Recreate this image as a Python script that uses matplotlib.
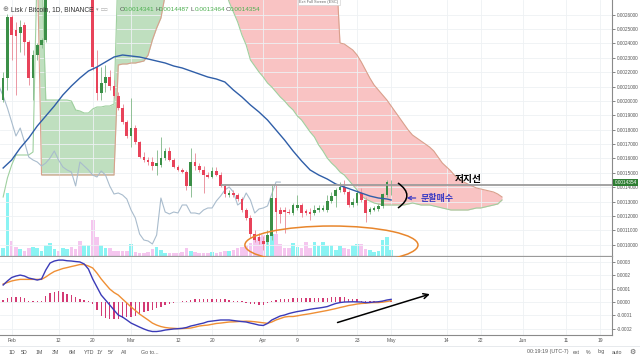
import numpy as np
import pandas as pd
import matplotlib
matplotlib.use("Agg")
import matplotlib.pyplot as plt
from matplotlib.patches import Ellipse, PathPatch
from matplotlib.path import Path
from matplotlib.ticker import FormatStrFormatter
from matplotlib.transforms import blended_transform_factory

plt.rcParams["font.family"] = ["Liberation Sans", "DejaVu Sans"]
KOREAN = ["Noto Sans CJK KR", "DejaVu Sans"]

ORIGIN = pd.Timestamp("2018-02-01")

# daily LSK/BTC candles 2018-01-30 .. 2018-05-01 (Feb 10-19 sit above the window)
candle_dates = pd.date_range("2018-01-30", "2018-05-01")
opens = [
    0.0020067, 0.0021597, 0.0025840, 0.0024936, 0.0024727, 0.0025284, 0.0024101, 0.0021597, 0.0023197, 0.0023893,
    0.0024240, 0.0027719, 0.0028500, 0.0029000, 0.0028800, 0.0029200, 0.0030000, 0.0029800, 0.0029400, 0.0028800,
    0.0029200, 0.0030500, 0.0022362, 0.0020553, 0.0021249, 0.0021666, 0.0021040, 0.0020345, 0.0019510, 0.0018536,
    0.0017562, 0.0018118, 0.0017145, 0.0016101, 0.0015893, 0.0015753, 0.0015475, 0.0015545, 0.0016032, 0.0016519,
    0.0015893, 0.0015406, 0.0015197, 0.0015058, 0.0014084, 0.0015753, 0.0015475, 0.0015197, 0.0014849, 0.0014710,
    0.0015127, 0.0014849, 0.0014084, 0.0013458, 0.0013597, 0.0013458, 0.0013180, 0.0012414, 0.0011858, 0.0010745,
    0.0010536, 0.0010258, 0.0010188, 0.0010606, 0.0013249, 0.0012414, 0.0012414, 0.0012275, 0.0012206, 0.0012554,
    0.0012762, 0.0012345, 0.0012275, 0.0012206, 0.0012414, 0.0012414, 0.0012414, 0.0013041, 0.0013388, 0.0013806,
    0.0014014, 0.0013667, 0.0012762, 0.0012901, 0.0013597, 0.0013110, 0.0012275, 0.0012414, 0.0012484, 0.0012693,
    0.0013458, 0.0014341,
]
highs = [
    0.0022014, 0.0026049, 0.0025979, 0.0025492, 0.0025632, 0.0025492, 0.0024240, 0.0023545, 0.0024032, 0.0024379,
    0.0028414, 0.0029000, 0.0029500, 0.0029800, 0.0029400, 0.0030500, 0.0030800, 0.0030200, 0.0030000, 0.0029500,
    0.0031000, 0.0031200, 0.0023545, 0.0022362, 0.0022501, 0.0022153, 0.0021458, 0.0020623, 0.0019788, 0.0018675,
    0.0020206, 0.0018327, 0.0017214, 0.0016449, 0.0016101, 0.0016101, 0.0016588, 0.0017492, 0.0016727, 0.0016797,
    0.0016032, 0.0015545, 0.0015336, 0.0015197, 0.0016727, 0.0016379, 0.0015684, 0.0015475, 0.0015058, 0.0015406,
    0.0015406, 0.0015058, 0.0014223, 0.0013806, 0.0013806, 0.0013597, 0.0013319, 0.0012554, 0.0012067, 0.0011023,
    0.0010814, 0.0010606, 0.0011023, 0.0014154, 0.0014154, 0.0012623, 0.0012623, 0.0012484, 0.0012901, 0.0013458,
    0.0012901, 0.0012484, 0.0012554, 0.0012762, 0.0012762, 0.0012762, 0.0013458, 0.0013667, 0.0013945, 0.0014362,
    0.0014501, 0.0013806, 0.0013249, 0.0013806, 0.0013945, 0.0013319, 0.0012623, 0.0012693, 0.0012832, 0.0013597,
    0.0014501, 0.0014487,
]
lows = [
    0.0019927, 0.0020762, 0.0022849, 0.0020414, 0.0023406, 0.0023197, 0.0021110, 0.0020067, 0.0022849, 0.0023684,
    0.0024101, 0.0027400, 0.0028000, 0.0028600, 0.0028300, 0.0029000, 0.0029500, 0.0029000, 0.0028500, 0.0028200,
    0.0028800, 0.0022153, 0.0020067, 0.0020067, 0.0020623, 0.0020762, 0.0020206, 0.0019371, 0.0018396, 0.0017423,
    0.0016797, 0.0017006, 0.0016032, 0.0015753, 0.0015545, 0.0015197, 0.0014849, 0.0015406, 0.0015893, 0.0015823,
    0.0015336, 0.0015127, 0.0014988, 0.0013806, 0.0013319, 0.0015197, 0.0015058, 0.0013597, 0.0014640, 0.0014640,
    0.0014779, 0.0014014, 0.0013319, 0.0013319, 0.0013319, 0.0013041, 0.0012275, 0.0011719, 0.0010466, 0.0010188,
    0.0010049, 0.0009632, 0.0010049, 0.0010327, 0.0010814, 0.0011510, 0.0010814, 0.0012136, 0.0012067, 0.0012414,
    0.0011927, 0.0012067, 0.0011719, 0.0012067, 0.0012275, 0.0012345, 0.0012275, 0.0012901, 0.0012623, 0.0013667,
    0.0013527, 0.0012623, 0.0012623, 0.0012762, 0.0012971, 0.0011580, 0.0012136, 0.0012345, 0.0012345, 0.0012554,
    0.0013319, 0.0013464,
]
closes = [
    0.0021597, 0.0025840, 0.0024588, 0.0024519, 0.0025145, 0.0024101, 0.0021597, 0.0023197, 0.0023893, 0.0024240,
    0.0027719, 0.0028500, 0.0029000, 0.0028800, 0.0029200, 0.0030000, 0.0029800, 0.0029400, 0.0028800, 0.0029200,
    0.0030500, 0.0022362, 0.0020553, 0.0021249, 0.0021666, 0.0021040, 0.0020345, 0.0019510, 0.0018536, 0.0017562,
    0.0018118, 0.0017145, 0.0016101, 0.0015893, 0.0015753, 0.0015475, 0.0015684, 0.0016032, 0.0016519, 0.0015893,
    0.0015406, 0.0015197, 0.0015058, 0.0014084, 0.0015753, 0.0015475, 0.0015197, 0.0014849, 0.0014710, 0.0015127,
    0.0014849, 0.0014084, 0.0013527, 0.0013597, 0.0013458, 0.0013180, 0.0012414, 0.0011858, 0.0010745, 0.0010327,
    0.0010258, 0.0010049, 0.0010675, 0.0013249, 0.0012275, 0.0012136, 0.0012275, 0.0012206, 0.0012762, 0.0012762,
    0.0012206, 0.0012206, 0.0012136, 0.0012414, 0.0012554, 0.0012554, 0.0013041, 0.0013388, 0.0013806, 0.0014014,
    0.0013667, 0.0012762, 0.0012971, 0.0013597, 0.0013110, 0.0012206, 0.0012484, 0.0012554, 0.0012693, 0.0013527,
    0.0014362, 0.0014354,
]
volume_k = [
    80, 630, 150, 90, 70, 50, 80, 90, 80, 50,
    110, 130, 70, 50, 80, 70, 90, 70, 150, 110,
    110, 360, 190, 110, 80, 80, 50, 50, 50, 50,
    120, 40, 30, 30, 40, 70, 90, 60, 30, 30,
    30, 30, 40, 80, 50, 40, 30, 30, 30, 40,
    30, 40, 50, 50, 60, 80, 90, 110, 130, 160,
    190, 210, 200, 220, 220, 120, 80, 80, 130, 90,
    80, 140, 80, 140, 100, 140, 100, 110, 60, 100,
    80, 70, 110, 120, 120, 70, 60, 40, 50, 160,
    190, 60,
]

# Ichimoku leading spans (already shifted 26 days ahead), 2018-01-30 .. 2018-05-27
cloud_dates = pd.date_range("2018-01-30", "2018-05-27")
nan = np.nan
span_a = [
    0.0013319, 0.0014640, 0.0015545, 0.0016241, 0.0016241, 0.0016241, 0.0016241, 0.0016449, 0.00298, 0.00298,
    0.0020067, 0.0020067, 0.0020067, 0.0020067, 0.0020067, 0.0020067, 0.0019997, 0.0019371, 0.0019301, 0.0019162,
    0.0019162, 0.0019440, 0.0019580, 0.0019580, 0.0019649, 0.0019649, 0.0019788, 0.00298, 0.00298, 0.00298,
    0.00298, 0.00298, 0.00298, 0.00298, 0.00298, 0.00298, 0.00298, 0.00298, 0.00298, nan,
    nan, nan, nan, nan, nan, nan, nan, nan, nan, nan,
    nan, nan, 0.0027858, 0.0026884, 0.0026188, 0.0025492, 0.0024588, 0.0023893, 0.0022849, 0.0022432,
    0.0022014, 0.0021666, 0.0021249, 0.0020971, 0.0020623, 0.0020275, 0.0019997, 0.0019649, 0.0019371, 0.0018953,
    0.0018675, 0.0018257, 0.0017840, 0.0017492, 0.0016936, 0.0016519, 0.0016032, 0.0015684, 0.0015406, 0.0015058,
    0.0014849, 0.0014501, 0.0014154, 0.0013806, 0.0013388, 0.0013180, 0.0013041, 0.0012901, 0.0012832, 0.0012762,
    0.0012762, 0.0012762, 0.0012762, 0.0012762, 0.0012762, 0.0012832, 0.0012901, 0.0012832, 0.0012762, 0.0012762,
    0.0012762, 0.0012693, 0.0012623, 0.0012554, 0.0012484, 0.0012414, 0.0012414, 0.0012414, 0.0012414, 0.0012414,
    0.0012484, 0.0012554, 0.0012554, 0.0012623, 0.0012693, 0.0012762, 0.0012832, 0.0013110,
]
span_b = [
    nan, nan, nan, nan, nan, nan, nan, nan, 0.00298, 0.0014849,
    0.0014849, 0.0014849, 0.0014849, 0.0014849, 0.0014849, 0.0014849, 0.0014849, 0.0014849, 0.0014849, 0.0014849,
    0.0014849, 0.0014849, 0.0014849, 0.0014849, 0.0014849, 0.0014849, 0.0014849, 0.0022501, 0.0022571, 0.0022571,
    0.0022640, 0.0022640, 0.0022710, 0.0022779, 0.0023197, 0.0024240, 0.0025075, 0.0025771, 0.0027371, nan,
    nan, nan, nan, nan, nan, nan, nan, nan, nan, nan,
    nan, nan, 0.00298, 0.00298, 0.00298, 0.00298, 0.00298, 0.00298, 0.00298, 0.00298,
    0.00298, 0.00298, 0.00298, 0.00298, 0.00298, 0.00298, 0.00298, 0.00298, 0.00298, 0.00298,
    0.00298, 0.00298, 0.00298, 0.00298, 0.00298, 0.00298, 0.00298, 0.00298, 0.00298, 0.0024032,
    0.0023962, 0.0023753, 0.0023545, 0.0023197, 0.0022710, 0.0022153, 0.0021597, 0.0021110, 0.0020762, 0.0020414,
    0.0020067, 0.0019649, 0.0019232, 0.0018814, 0.0018396, 0.0017979, 0.0017631, 0.0017423, 0.0017214, 0.0017006,
    0.0016797, 0.0016519, 0.0016101, 0.0015684, 0.0015406, 0.0015127, 0.0014779, 0.0014571, 0.0014362, 0.0014223,
    0.0014084, 0.0013945, 0.0013875, 0.0013806, 0.0013736, 0.0013667, 0.0013527, 0.0013319,
]

# dark blue moving average, read every second day (days after Feb 1)
ma_day = [-2, 0, 2, 4, 6, 8, 10, 12, 14, 16, 18, 20, 22, 24, 26, 28, 30, 32, 34, 36, 38, 40, 42, 44,
          46, 48, 50, 52, 54, 56, 58, 60, 62, 64, 66, 68, 70, 72, 74, 76, 78, 80, 82, 84, 86, 88, 89]
ma_value = [
    0.0015336, 0.0015893, 0.0016727, 0.0017423, 0.0018257, 0.0018953, 0.0019649, 0.0020414, 0.0021040, 0.0021597,
    0.0022084, 0.0022362, 0.0022710, 0.0023058, 0.0023197, 0.0023127, 0.0023058, 0.0022919, 0.0022779, 0.0022640,
    0.0022432, 0.0022293, 0.0022084, 0.0021875, 0.0021666, 0.0021527, 0.0021319, 0.0020762, 0.0020275, 0.0019719,
    0.0019232, 0.0018675, 0.0017979, 0.0017283, 0.0016519, 0.0015823, 0.0015197, 0.0014849, 0.0014571, 0.0014223,
    0.0014014, 0.0013806, 0.0013597, 0.0013388, 0.0013249, 0.0013180, 0.0013110,
]

# MACD pane, units of 1e-4 BTC, same days as the candles
macd = [
    1.27, 1.57, 1.83, 1.94, 2.01, 1.94, 1.79, 1.72, 1.64, 1.72,
    2.39, 2.91, 3.06, 3.13, 3.13, 3.08, 3.06, 3.02, 2.99, 2.84,
    2.46, 1.72, 1.12, 0.52, 0.15, -0.22, -0.60, -0.97, -1.12, -1.34,
    -1.57, -1.72, -1.87, -2.01, -2.13, -2.20, -2.20, -2.16, -2.09, -2.05,
    -2.01, -1.99, -1.96, -1.90, -1.79, -1.72, -1.64, -1.57, -1.46, -1.42,
    -1.38, -1.34, -1.34, -1.34, -1.38, -1.42, -1.46, -1.49, -1.57, -1.64,
    -1.72, -1.75, -1.60, -1.34, -1.19, -1.04, -0.97, -0.86, -0.78, -0.71,
    -0.66, -0.60, -0.54, -0.49, -0.45, -0.40, -0.34, -0.22, -0.11, -0.04,
    0.00, 0.01, 0.02, 0.01, 0.00, -0.04, -0.03, 0.00, 0.02, 0.07,
    0.15, 0.20,
]
signal = [
    1.34, 1.46, 1.57, 1.64, 1.69, 1.69, 1.69, 1.69, 1.69, 1.69,
    1.87, 2.09, 2.28, 2.39, 2.50, 2.57, 2.65, 2.72, 2.80, 2.80,
    2.69, 2.54, 2.16, 1.72, 1.34, 0.97, 0.71, 0.52, 0.22, -0.07,
    -0.37, -0.63, -0.90, -1.12, -1.34, -1.57, -1.72, -1.83, -1.90, -1.94,
    -1.96, -1.98, -1.98, -1.96, -1.94, -1.87, -1.79, -1.75, -1.72, -1.66,
    -1.60, -1.57, -1.53, -1.49, -1.48, -1.46, -1.44, -1.43, -1.44, -1.47,
    -1.51, -1.55, -1.59, -1.49, -1.34, -1.23, -1.12, -1.08, -1.08, -1.03,
    -0.97, -0.92, -0.87, -0.81, -0.75, -0.69, -0.63, -0.56, -0.49, -0.41,
    -0.34, -0.26, -0.21, -0.15, -0.11, -0.09, -0.05, -0.04, -0.04, -0.01,
    0.04, 0.10,
]
histogram = [
    0.15, 0.30, 0.37, 0.37, 0.37, 0.30, 0.11, 0.07, 0.04, 0.04,
    0.45, 0.67, 0.78, 0.82, 0.75, 0.60, 0.49, 0.37, 0.22, 0.15,
    0.07, -0.15, -0.60, -1.04, -1.19, -1.27, -1.27, -1.27, -1.19, -1.12,
    -1.12, -1.04, -0.90, -0.75, -0.67, -0.60, -0.45, -0.34, -0.22, -0.11,
    -0.04, 0.02, 0.04, 0.07, 0.15, 0.19, 0.19, 0.22, 0.22, 0.22,
    0.22, 0.22, 0.19, 0.15, 0.11, 0.07, 0.04, -0.04, -0.11, -0.15,
    -0.19, -0.19, -0.07, 0.11, 0.15, 0.19, 0.22, 0.26, 0.30, 0.30,
    0.30, 0.30, 0.30, 0.30, 0.30, 0.30, 0.30, 0.34, 0.37, 0.37,
    0.34, 0.26, 0.22, 0.19, 0.11, 0.05, 0.04, 0.04, 0.06, 0.07,
    0.11, 0.11,
]

tick_dates = ["2018-02-01", "2018-02-12", "2018-02-20", "2018-03-01", "2018-03-12", "2018-03-20",
              "2018-04-01", "2018-04-09", "2018-04-23", "2018-05-01", "2018-05-14", "2018-05-22",
              "2018-06-01", "2018-06-11", "2018-06-19"]
tick_labels = ["Feb", "12", "20", "Mar", "12", "20", "Apr", "9", "23", "May", "14", "22", "Jun", "11", "19"]

last_ohlc = ("0.0014341", "0.0014487", "0.0013464", "0.0014354")
resistance_level = 0.0014154
resistance_from = "2018-03-22"

# ---------------------------------------------------------------------------
def day_of(d):
    return (pd.to_datetime(d) - ORIGIN).days

x = np.asarray((candle_dates - ORIGIN).days, dtype=float)
xc = np.asarray((cloud_dates - ORIGIN).days, dtype=float)
o, h, l, c = (np.array(v) for v in (opens, highs, lows, closes))
a, b = np.array(span_a), np.array(span_b)
up = c >= o

GREEN, RED = "#3b8f47", "#e8435a"
XMIN, XMAX = -2.74, 140.8

fig = plt.figure(figsize=(6.4, 3.6), dpi=100)
ax = fig.add_axes([0, 0.28889, 0.95625, 0.71111])
axm = fig.add_axes([0, 0.069444, 0.95625, 0.216667], sharex=ax)
axv = ax.twinx()
axv.set_zorder(ax.get_zorder() - 1)
ax.patch.set_visible(False)

# volume overlay
axv.bar(x, volume_k, width=0.85, color=np.where(up, "#8af3f3", "#f5c6ef"), lw=0)
axv.set_ylim(0, max(volume_k) * 4.06)
axv.axis("off")

# cloud
ax.fill_between(xc, a, b, where=a >= b, interpolate=True, color="#bfdfbf", lw=0, zorder=1)
ax.fill_between(xc, a, b, where=a < b, interpolate=True, color="#f9c3c3", lw=0, zorder=1)
ax.plot(xc, a, color="#9fd09f", lw=0.8, zorder=2)
ax.plot(xc, b, color="#d9a08c", lw=0.8, zorder=2)

# lagging span and moving average
ax.plot(x - 26, c, color="#a9bccd", lw=0.8, zorder=2)
ax.plot(ma_day, ma_value, color="#2f5ea8", lw=1.0, zorder=5)

# candles
ax.vlines(x, l, h, colors=np.where(up, "#8fc096", "#eb97a3"), lw=0.7, zorder=3)
ax.bar(x, np.maximum(np.abs(c - o), 0.000004), bottom=np.minimum(o, c), width=0.62,
       color=np.where(up, GREEN, RED), lw=0, zorder=4)

# user drawings
ax.hlines(resistance_level, day_of(resistance_from), XMAX, color="#9c9c9c", lw=1.3, zorder=6)
ax.text(104.0, 0.001457, "저지선", family=KOREAN, fontsize=7, fontweight="bold",
        color="black", ha="left", va="center", zorder=9)
bracket = Path([(90.6, 0.0014292), (94.8, 0.0013423), (90.6, 0.0012553)],
               [Path.MOVETO, Path.CURVE3, Path.CURVE3])
ax.add_patch(PathPatch(bracket, fill=False, ec="black", lw=1.1, zorder=9))
ax.annotate("", xy=(92.0, 0.0013249), xytext=(95.4, 0.0013249),
            arrowprops=dict(arrowstyle="->", color="#3d3dc4", lw=0.9, mutation_scale=6), zorder=9)
ax.text(95.9, 0.0013249, "분할매수", family=KOREAN, fontsize=6.5, fontweight="bold",
        color="#3d3dc4", ha="left", va="center", zorder=9)
ax.add_patch(Ellipse((75.0, 0.000998), 40.6, 0.000264, fill=False, ec="#e8862c",
                     lw=1.1, clip_on=False, zorder=9))

# price axis
ax.set_xlim(XMIN, XMAX)
ax.set_ylim(0.0009214, 0.0027023)
ax.yaxis.tick_right()
ax.set_yticks(np.round(np.arange(10, 27) * 1e-4, 7))
ax.yaxis.set_major_formatter(FormatStrFormatter("%.7f"))
ax.tick_params(axis="y", direction="out", length=2, width=0.5, pad=1.5, labelsize=3.4,
               colors="#555555")
ax.tick_params(axis="x", length=0, labelbottom=False)
ax.set_xticks([day_of(d) for d in tick_dates])
ax.grid(color="#eef1f4", lw=0.6, zorder=0)
for s in ("top", "left"):
    ax.spines[s].set_visible(False)
ax.spines["right"].set_color("#8a8a8a")
ax.spines["right"].set_linewidth(0.8)
ax.spines["bottom"].set_color("#9a9a9a")
ax.spines["bottom"].set_linewidth(0.9)
ax.text(1.004, float(last_ohlc[3]), last_ohlc[3], transform=blended_transform_factory(ax.transAxes, ax.transData),
        fontsize=3.4, color="white", ha="left", va="center", clip_on=False, zorder=10,
        bbox=dict(fc="#2e7d32", ec="none", pad=0.7))

# MACD pane
axm.bar(x, np.array(histogram) * 1e-4, width=0.32, color="#d33a74", lw=0, zorder=2)
axm.plot(x, np.array(signal) * 1e-4, color="#ef8f35", lw=1.0, zorder=3)
axm.plot(x, np.array(macd) * 1e-4, color="#3b3bb8", lw=1.0, zorder=4)
axm.annotate("", xy=(98.7, 0.65e-4), xytext=(75.8, -1.59e-4),
             arrowprops=dict(arrowstyle="->", color="black", lw=1.1, mutation_scale=9))
axm.set_ylim(-0.000246, 0.000336)
axm.yaxis.tick_right()
axm.set_yticks(np.round(np.arange(-2, 4) * 1e-4, 5))
axm.yaxis.set_major_formatter(FormatStrFormatter("%.4f"))
axm.tick_params(axis="y", direction="out", length=2, width=0.5, pad=1.5, labelsize=3.4,
                colors="#555555")
axm.set_xticks([day_of(d) for d in tick_dates])
axm.set_xticklabels(tick_labels)
axm.tick_params(axis="x", length=0, pad=2.5, labelsize=3.6, colors="#555555")
axm.grid(color="#eef1f4", lw=0.6, zorder=0)
for s in ("top", "left"):
    axm.spines[s].set_visible(False)
axm.spines["right"].set_color("#8a8a8a")
axm.spines["right"].set_linewidth(0.8)
axm.spines["bottom"].set_color("#8a8a8a")
axm.spines["bottom"].set_linewidth(0.8)

# header legend
fy = 1 - 9.5 / 360
fig.text(2 / 640, fy, "⊕", fontsize=5, color="#777777", va="center")
fig.text(11 / 640, fy, "Lisk / Bitcoin, 1D, BINANCE", fontsize=4.8, color="#333333", va="center")
fig.text(96 / 640, fy, "▾  □□", fontsize=3.6, color="#9a9a9a", va="center")
for lab, val, px in zip("OHLC", last_ohlc, (120, 155, 190.5, 225.5)):
    fig.text(px / 640, fy, lab, fontsize=4.6, color="#555555", va="center")
    fig.text((px + 3.8) / 640, fy, val, fontsize=4.6, color="#4caf50", va="center")
fig.text(319 / 640, 1 - 1.5 / 360, "Exit Full Screen (ESC)", fontsize=2.8, color="#666666",
         ha="center", va="center", bbox=dict(fc="white", ec="#cccccc", lw=0.4, pad=1.2))

# bottom toolbar
ty = 1 - 352 / 360
for lab, px in zip(["1D", "5D", "1M", "3M", "6M", "YTD", "1Y", "5Y", "All", "Go to..."],
                   [9, 21, 36, 52, 69, 84, 97, 108, 121, 141]):
    fig.text(px / 640, ty, lab, fontsize=3.8, color="#555555", va="center")
for lab, px in zip(["00:19:19 (UTC-7)", "ext", "%", "log", "auto", "⚙"],
                   [527, 573, 586, 598, 612, 629]):
    fig.text(px / 640, ty, lab, fontsize=3.8 if lab != "⚙" else 5, color="#555555", va="center")
fig.add_artist(plt.Line2D([0, 1], [1 - 346 / 360] * 2, color="#e3e6ea", lw=0.6))

fig.savefig("out.png", dpi=100)
